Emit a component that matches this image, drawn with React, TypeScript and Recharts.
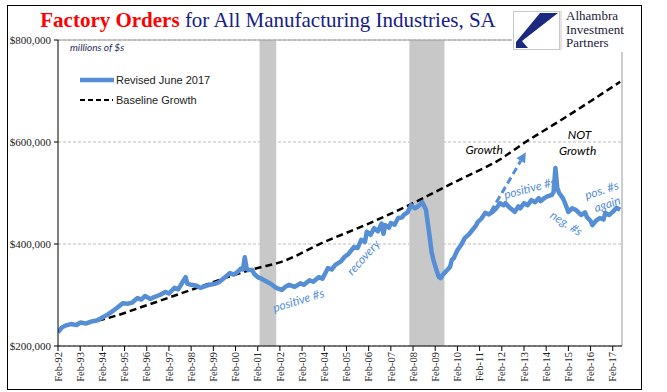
import React from 'react';
import {
  LineChart, Line, XAxis, YAxis, CartesianGrid, ReferenceArea, ReferenceLine, ReferenceDot, Legend,
} from 'recharts';

// months since Feb-1992
const revisedMonths = [0, 2, 4, 7, 10, 12, 15, 18, 21, 24, 27, 29, 32, 35, 38, 40, 43, 45, 47, 50, 52, 55, 58, 60, 63, 65, 67, 69, 70, 72, 75, 77, 80, 82, 85, 87, 90, 93, 95, 97, 99, 100, 101, 102, 103, 105, 106, 108, 110, 113, 115, 118, 121, 123, 125, 128, 131, 133, 136, 138, 141, 143, 146, 148, 150, 153, 155, 157, 160, 162, 164, 166, 167, 169, 171, 173, 175, 176, 177, 179, 180, 182, 184, 186, 187, 189, 191, 193, 194, 196, 197, 199, 200, 201, 202, 203, 205, 206, 207, 208, 210, 212, 213, 214, 216, 218, 220, 222, 224, 226, 227, 229, 231, 233, 235, 237, 239, 241, 242, 244, 246, 247, 249, 250, 252, 254, 256, 258, 260, 261, 263, 265, 267, 268, 269, 270, 271, 273, 274, 276, 278, 280, 282, 283, 285, 286, 288, 289, 291, 293, 295, 296, 298, 300, 302, 304];
// $ billions (thousands of $ millions)
const revisedValues = [227, 236, 240, 243, 241, 246, 244, 248, 250, 256, 262, 267, 275, 284, 283, 285, 294, 291, 298, 292, 296, 300, 306, 303, 314, 311, 323, 335, 322, 320, 318, 314, 318, 320, 322, 325, 334, 343, 340, 345, 352, 350, 374, 352, 349, 349, 342, 335, 332, 326, 322, 314, 310, 316, 320, 316, 323, 320, 329, 326, 335, 332, 353, 350, 359, 366, 375, 380, 394, 392, 408, 404, 424, 418, 431, 425, 440, 420, 437, 432, 441, 438, 451, 452, 457, 462, 476, 470, 472, 478, 482, 467, 440, 414, 385, 369, 345, 335, 333, 339, 347, 355, 369, 372, 388, 398, 412, 418, 427, 436, 443, 450, 461, 458, 463, 470, 480, 476, 480, 472, 466, 463, 474, 470, 480, 476, 486, 482, 490, 484, 490, 494, 496, 502, 549, 510, 500, 490, 482, 463, 470, 467, 460, 457, 462, 453, 445, 437, 446, 451, 448, 461, 457, 463, 471, 467];

const baselineMonths = [4, 24, 48, 72, 96, 108, 120, 144, 168, 192, 204, 216, 240, 252, 264, 276, 288, 304];
const baselineValues = [241, 252, 280, 310, 340, 353, 364, 404, 440, 480, 502, 524, 568, 598, 625, 652, 680, 718];

const xTickMonths = [0, 12, 24, 36, 48, 60, 72, 84, 96, 108, 120, 132, 144, 156, 168, 180, 192, 204, 216, 228, 240, 252, 264, 276, 288, 300];
const xTickLabels = ['Feb-92', 'Feb-93', 'Feb-94', 'Feb-95', 'Feb-96', 'Feb-97', 'Feb-98', 'Feb-99', 'Feb-00', 'Feb-01', 'Feb-02', 'Feb-03', 'Feb-04', 'Feb-05', 'Feb-06', 'Feb-07', 'Feb-08', 'Feb-09', 'Feb-10', 'Feb-11', 'Feb-12', 'Feb-13', 'Feb-14', 'Feb-15', 'Feb-16', 'Feb-17'];
const yTicks = [200, 400, 600, 800];

const recessionStarts = [109, 190];
const recessionEnds = [118, 209];

const seriesNames = ['Revised June 2017', 'Baseline Growth'];

const revisedData = revisedMonths.map((m, i) => ({ m, v: revisedValues[i] }));
const baselineData = baselineMonths.map((m, i) => ({ m, v: baselineValues[i] }));

const BLUE = '#558ED5';
const SERIF = "'Liberation Serif', 'Times New Roman', serif";

const annotations = [
  { text: 'positive #s', m: 130, v: 290, angle: -17, color: BLUE },
  { text: 'recovery', m: 165, v: 374, angle: -48, color: BLUE },
  { text: 'positive #s', m: 255, v: 510, angle: -15, color: BLUE },
  { text: 'neg. #s', m: 275, v: 441, angle: 33, color: BLUE },
  { text: 'pos. #s', m: 294, v: 506, angle: -18, color: BLUE },
  { text: 'again', m: 297, v: 479, angle: -18, color: BLUE },
  { text: 'Growth', m: 230.5, v: 586, angle: 0, color: '#000' },
  { text: 'NOT', m: 282, v: 614, angle: 0, color: '#000' },
  { text: 'Growth', m: 281, v: 584, angle: 0, color: '#000' },
];

const XTick = (props: any) => {
  const { x, y, payload } = props;
  const idx = xTickMonths.indexOf(payload.value);
  return (
    <g transform={`translate(${x},${y})`}>
      <text transform="rotate(-90)" x={0} y={0} dy="0.35em" textAnchor="end"
        fontFamily="Liberation Serif" fontSize={10.5}
        style={{ fontFamily: SERIF, fontSize: 10.5 }} fill="#222">
        {idx >= 0 ? xTickLabels[idx] : ''}
      </text>
    </g>
  );
};

const YTick = (props: any) => {
  const { x, y, payload } = props;
  return (
    <text x={x - 1} y={y} dy="0.35em" textAnchor="end" fontFamily="Liberation Serif" fontSize={11}
      style={{ fontFamily: SERIF, fontSize: 11 }} fill="#222">
      {`$${payload.value},000`}
    </text>
  );
};

const ArrowShape = (props: any) => {
  const { x1, y1, x2, y2 } = props;
  if ([x1, y1, x2, y2].some((n) => typeof n !== 'number' || isNaN(n))) return null;
  const ang = Math.atan2(y2 - y1, x2 - x1);
  const len = 10;
  const w = 5;
  const bx = x2 - len * Math.cos(ang);
  const by = y2 - len * Math.sin(ang);
  const px = -Math.sin(ang) * w;
  const py = Math.cos(ang) * w;
  return (
    <g>
      <line x1={x1} y1={y1} x2={bx} y2={by} stroke={BLUE} strokeWidth={3} strokeDasharray="7 4" />
      <polygon points={`${x2},${y2} ${bx + px},${by + py} ${bx - px},${by - py}`} fill={BLUE} />
    </g>
  );
};

const LegendContent = () => (
  <svg width={160} height={40}>
    <line x1={2} y1={10} x2={36} y2={10} stroke={BLUE} strokeWidth={4.5} />
    <text x={38} y={10} dy="0.35em" fontFamily="Liberation Sans" fontSize={11} fill="#222">{seriesNames[0]}</text>
    <line x1={2} y1={30} x2={35} y2={30} stroke="#000" strokeWidth={2} strokeDasharray="5 3" />
    <text x={38} y={30} dy="0.35em" fontFamily="Liberation Sans" fontSize={11} fill="#222">{seriesNames[1]}</text>
  </svg>
);

export default function App() {
  return (
    <div style={{ position: 'absolute', left: 0, top: 0, width: 667, height: 392, background: '#fff', overflow: 'hidden' }}>
      <LineChart width={667} height={392} margin={{ top: 40, right: 45, bottom: 6, left: 0 }}>
        <CartesianGrid vertical={false} stroke="#BBBBBB" strokeDasharray="3 2" />
        {recessionStarts.map((s, i) => (
          <ReferenceArea key={`r${i}`} x1={s} x2={recessionEnds[i]} y1={200} y2={800}
            fill="#C8C8C8" fillOpacity={1} stroke="none" ifOverflow="visible" />
        ))}
        <ReferenceLine y={800} stroke="#9A9A9A" strokeWidth={1} />
        <ReferenceLine x={305} stroke="#9A9A9A" strokeWidth={1} />
        <XAxis type="number" dataKey="m" domain={[0, 305]} ticks={xTickMonths} interval={0}
          tick={<XTick />} tickSize={5} tickMargin={1} tickLine={{ stroke: '#000' }} axisLine={{ stroke: '#000' }} height={40}
          allowDataOverflow />
        <YAxis type="number" domain={[200, 800]} ticks={yTicks} interval={0} tick={<YTick />}
          tickSize={4} tickLine={{ stroke: '#000' }} axisLine={{ stroke: '#000' }} width={58} allowDataOverflow />
        <Line data={baselineData} dataKey="v" name={seriesNames[1]} type="monotone" stroke="#000"
          strokeWidth={2.5} strokeDasharray="7 4" dot={false} isAnimationActive={false} />
        <Line data={revisedData} dataKey="v" name={seriesNames[0]} type="linear" stroke={BLUE}
          strokeWidth={4.5} strokeLinejoin="round" dot={false} isAnimationActive={false} />
        <ReferenceLine segment={[{ x: 234, y: 463 }, { x: 253, y: 580 }]} shape={ArrowShape} ifOverflow="visible" />
        {annotations.map((a, i) => (
          <ReferenceDot key={`a${i}`} x={a.m} y={a.v} r={0} ifOverflow="visible"
            shape={(p: any) => (
              <text x={p.cx} y={p.cy} transform={`rotate(${a.angle} ${p.cx} ${p.cy})`} textAnchor="middle"
                dominantBaseline="central" fontFamily="Lato" fontStyle="italic" fontSize={12} fill={a.color}>
                {a.text}
              </text>
            )} />
        ))}
        <Legend layout="horizontal" verticalAlign="middle" align="center" content={<LegendContent />}
          wrapperStyle={{ position: 'absolute', left: 78, top: 70, width: 160, height: 40 }} />
      </LineChart>
      <svg width={667} height={392} style={{ position: 'absolute', left: 0, top: 0, pointerEvents: 'none' }}>
        <rect x={7.5} y={5.5} width={634} height={384} fill="none" stroke="#000" strokeWidth={1} />
        <text x={268} y={27} textAnchor="middle" style={{ fontFamily: SERIF, fontSize: 21 }}>
          <tspan fill="#FF0000" fontWeight="bold">Factory Orders</tspan>
          <tspan fill="#16208A"> for All Manufacturing Industries, SA</tspan>
        </text>
        <text x={70} y={51} fontFamily="Lato" fontStyle="italic" fontSize={10} fill="#1F2A60">millions of $s</text>
        <rect x={512} y={8} width={128} height={44} fill="#fff" />
        <rect x={513.5} y={11.5} width={46} height={38} fill="#fff" stroke="#C8C8C8" />
        <path d="M 558 13 L 540 13 L 516 42 L 516 48 L 528 48 L 522 41 Z" fill="#1B2A80" />
        <line x1={561} y1={11} x2={561} y2={50} stroke="#C8C8C8" />
        <text style={{ fontFamily: SERIF, fontSize: 13 }} fill="#1A1A3A">
          <tspan x={566} y={20}>Alhambra</tspan>
        </text>
        <text style={{ fontFamily: SERIF, fontSize: 13 }} fill="#1A1A3A">
          <tspan x={566} y={33.5}>Investment</tspan>
        </text>
        <text style={{ fontFamily: SERIF, fontSize: 13 }} fill="#1A1A3A">
          <tspan x={566} y={47}>Partners</tspan>
        </text>
      </svg>
    </div>
  );
}
